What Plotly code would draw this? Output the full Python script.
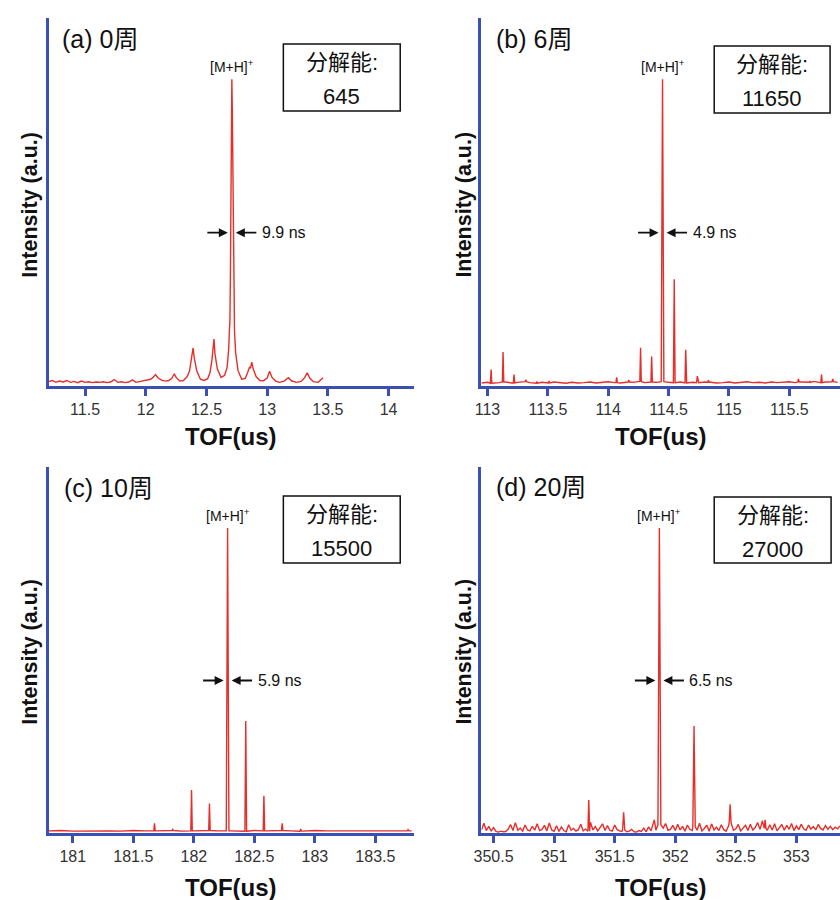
import plotly.graph_objects as go

W, H = 840, 900

# ---------------- data ----------------
panel_labels = ["(a) 0周", "(b) 6周", "(c) 10周", "(d) 20周"]
resolutions = ["645", "11650", "15500", "27000"]
fwhm_labels = ["9.9 ns", "4.9 ns", "5.9 ns", "6.5 ns"]
main_peak_x = [12.709, 114.45, 182.279, 351.869]
half_max = 0.5

ticks_a = [11.5, 12, 12.5, 13, 13.5, 14]
ticks_b = [113, 113.5, 114, 114.5, 115, 115.5]
ticks_c = [181, 181.5, 182, 182.5, 183, 183.5]
ticks_d = [350.5, 351, 351.5, 352, 352.5, 353]

a_x = [11.20, 11.23, 11.26, 11.29, 11.32, 11.35, 11.38, 11.41, 11.44, 11.47,
       11.50, 11.53, 11.56, 11.59, 11.62, 11.65, 11.68, 11.71, 11.74, 11.77,
       11.80, 11.83, 11.86, 11.89, 11.92, 11.95, 11.98, 12.01, 12.04, 12.06,
       12.08, 12.10, 12.13, 12.16, 12.19, 12.215, 12.235, 12.25, 12.28, 12.31,
       12.34, 12.36, 12.375, 12.39, 12.40, 12.42, 12.45, 12.48, 12.51, 12.53,
       12.545, 12.555, 12.562, 12.57, 12.59, 12.62, 12.65, 12.67, 12.683, 12.690,
       12.693, 12.697, 12.702, 12.706, 12.709, 12.713, 12.718, 12.724, 12.731, 12.740,
       12.760, 12.790, 12.820, 12.840, 12.855, 12.863, 12.873, 12.885, 12.91, 12.94,
       12.97, 13.00, 13.02, 13.04, 13.07, 13.10, 13.14, 13.175, 13.20, 13.24,
       13.28, 13.31, 13.33, 13.35, 13.38, 13.42, 13.46]
a_y = [0.014, 0.018, 0.012, 0.016, 0.013, 0.018, 0.012, 0.015, 0.011, 0.016,
       0.012, 0.014, 0.011, 0.013, 0.012, 0.014, 0.011, 0.013, 0.021, 0.012,
       0.014, 0.011, 0.013, 0.020, 0.012, 0.014, 0.016, 0.018, 0.022, 0.028,
       0.037, 0.027, 0.019, 0.016, 0.018, 0.025, 0.040, 0.028, 0.016, 0.018,
       0.030, 0.048, 0.080, 0.124, 0.090, 0.050, 0.022, 0.018, 0.024, 0.045,
       0.085, 0.125, 0.153, 0.105, 0.055, 0.028, 0.035, 0.060, 0.120, 0.190,
       0.210, 0.350, 0.700, 0.950, 1.000, 0.900, 0.600, 0.350, 0.180, 0.110,
       0.050, 0.022, 0.025, 0.045, 0.062, 0.058, 0.078, 0.055, 0.030, 0.018,
       0.017, 0.026, 0.048, 0.028, 0.016, 0.012, 0.016, 0.027, 0.017, 0.012,
       0.015, 0.028, 0.043, 0.026, 0.014, 0.012, 0.027]

b_base_start, b_base_step = 112.95, 0.05
b_base = [0.010, 0.012, 0.009, 0.011, 0.013, 0.010, 0.012, 0.014, 0.011, 0.009,
          0.012, 0.010, 0.013, 0.011, 0.009, 0.012, 0.010, 0.011, 0.013, 0.010,
          0.012, 0.014, 0.011, 0.010, 0.013, 0.012, 0.015, 0.011, 0.013, 0.012,
          0.014, 0.012, 0.011, 0.013, 0.010, 0.012, 0.011, 0.013, 0.012, 0.010,
          0.011, 0.013, 0.010, 0.012, 0.014, 0.011, 0.012, 0.010, 0.013, 0.011,
          0.012, 0.014, 0.011, 0.013, 0.012, 0.015, 0.011, 0.013, 0.014, 0.012]
b_pk_x = [113.03, 113.129, 113.22, 113.317, 113.41, 113.51, 114.07, 114.17, 114.268, 114.36,
          114.45, 114.547, 114.642, 114.738, 114.83, 115.576, 115.67, 115.767, 115.86]
b_pk_h = [0.054, 0.111, 0.037, 0.020, 0.015, 0.016, 0.028, 0.020, 0.125, 0.096,
          1.000, 0.348, 0.118, 0.032, 0.019, 0.023, 0.015, 0.037, 0.023]
b_pk_w = [0.006, 0.006, 0.006, 0.006, 0.006, 0.006, 0.006, 0.006, 0.006, 0.006,
          0.011, 0.007, 0.006, 0.006, 0.006, 0.006, 0.006, 0.006, 0.006]

c_base_start, c_base_step = 180.80, 0.10
c_base = [0.007, 0.008, 0.006, 0.007, 0.008, 0.007, 0.006, 0.008, 0.007, 0.007,
          0.008, 0.006, 0.007, 0.008, 0.007, 0.007, 0.006, 0.008, 0.007, 0.008,
          0.007, 0.006, 0.008, 0.007, 0.007, 0.008, 0.006, 0.007, 0.008, 0.007,
          0.007]
c_pk_x = [181.675, 181.825, 181.981, 182.129, 182.279, 182.429, 182.579, 182.73, 182.883, 183.77]
c_pk_h = [0.032, 0.012, 0.141, 0.097, 1.000, 0.367, 0.122, 0.032, 0.013, 0.011]
c_pk_w = [0.006, 0.006, 0.006, 0.006, 0.011, 0.007, 0.006, 0.006, 0.006, 0.006]

d_base_start, d_base_step = 350.40, 0.02
d_base = [0.010, 0.032, 0.008, 0.022, 0.006, 0.018, 0.005, 0.003, 0.006, 0.004,
          0.005, 0.012, 0.028, 0.008, 0.034, 0.009, 0.016, 0.006, 0.026, 0.010,
          0.007, 0.022, 0.009, 0.030, 0.008, 0.012, 0.025, 0.007, 0.033, 0.010,
          0.006, 0.024, 0.005, 0.020, 0.008, 0.004, 0.027, 0.009, 0.015, 0.006,
          0.011, 0.029, 0.007, 0.013, 0.006, 0.035, 0.010, 0.021, 0.007, 0.018,
          0.030, 0.008, 0.024, 0.009, 0.006, 0.026, 0.011, 0.007, 0.005, 0.010,
          0.004, 0.006, 0.012, 0.004, 0.003, 0.008, 0.005, 0.016, 0.004, 0.020,
          0.007, 0.034, 0.009, 0.027, 0.008, 0.016, 0.031, 0.009, 0.012, 0.025,
          0.008, 0.029, 0.010, 0.022, 0.006, 0.026, 0.012, 0.008, 0.021, 0.009,
          0.032, 0.007, 0.015, 0.026, 0.006, 0.030, 0.010, 0.019, 0.008, 0.027,
          0.011, 0.006, 0.024, 0.033, 0.009, 0.014, 0.028, 0.007, 0.016, 0.025,
          0.008, 0.029, 0.010, 0.018, 0.034, 0.012, 0.040, 0.015, 0.009, 0.027,
          0.010, 0.030, 0.007, 0.017, 0.028, 0.009, 0.025, 0.012, 0.031, 0.008,
          0.023, 0.011, 0.029, 0.014, 0.009, 0.026, 0.013, 0.021, 0.010, 0.028,
          0.015, 0.010, 0.024, 0.012, 0.022, 0.011, 0.019, 0.014, 0.023]
d_pk_x = [351.286, 351.574, 351.826, 351.869, 352.155, 352.453, 352.742]
d_pk_h = [0.108, 0.068, 0.043, 1.000, 0.351, 0.094, 0.043]
d_pk_w = [0.007, 0.009, 0.005, 0.012, 0.010, 0.008, 0.007]

x_ranges = [[11.2, 14.21], [112.95, 115.92], [180.8, 183.82], [350.4, 353.36]]
tick_lists = [ticks_a, ticks_b, ticks_c, ticks_d]


def build(base_start, base_step, base, pk_x, pk_h, pk_w):
    bx = [base_start + base_step * i for i in range(len(base))]
    pts = []
    for x, y in zip(bx, base):
        if all(abs(x - c) > w for c, w in zip(pk_x, pk_w)):
            pts.append((x, y))
    for c, h, w in zip(pk_x, pk_h, pk_w):
        j = min(range(len(bx)), key=lambda k: abs(bx[k] - c))
        b0 = base[j]
        pts += [(c - w, b0), (c, h), (c + w, b0)]
    pts.sort()
    return [p[0] for p in pts], [p[1] for p in pts]


spectra = [
    (a_x, a_y),
    build(b_base_start, b_base_step, b_base, b_pk_x, b_pk_h, b_pk_w),
    build(c_base_start, c_base_step, c_base, c_pk_x, c_pk_h, c_pk_w),
    build(d_base_start, d_base_step, d_base, d_pk_x, d_pk_h, d_pk_w),
]

FONT = "Liberation Sans, Arial, Noto Sans CJK SC, sans-serif"
BLUE = "#3a50b2"
RED = "#e62e2a"


def px(xp):
    return xp / W


def py(yp):
    return 1 - yp / H


xdoms = [[px(41), px(410)], [px(478), 1.0], [px(41), px(410)], [px(478), 1.0]]
ydoms = [[py(386), py(18)], [py(386), py(18)], [py(833), py(467)], [py(833), py(467)]]

fig = go.Figure()
layout = dict(
    width=W, height=H, margin=dict(l=0, r=0, t=0, b=0),
    paper_bgcolor="white", plot_bgcolor="white", showlegend=False,
    font=dict(family=FONT, color="#222"),
)
annotations = []
shapes = []

label_pos = [(53, 39), (491, 39), (55, 488), (491, 487)]
box_pos = [(278, 396, 44, 111), (713, 830, 46, 113), (278, 396, 496, 563), (713, 831, 497, 563)]
ytitle_pos = [(22, 205), (460, 205), (22, 652), (460, 652)]
xtitle_y = [437, 437, 887, 887]

for i in range(4):
    n = "" if i == 0 else str(i + 1)
    xs, ys = spectra[i]
    fig.add_trace(go.Scatter(x=xs, y=ys, mode="lines", xaxis="x" + n, yaxis="y" + n,
                             line=dict(color=RED, width=1.4), hoverinfo="skip"))
    layout["xaxis" + n] = dict(
        domain=xdoms[i], range=x_ranges[i], anchor="y" + n,
        showline=True, linecolor=BLUE, linewidth=3, showgrid=False, zeroline=False,
        ticks="outside", ticklen=7, tickwidth=3, tickcolor=BLUE,
        tickvals=tick_lists[i], ticktext=[f"{t:g}" for t in tick_lists[i]],
        tickfont=dict(size=16, color="#333", family=FONT),
    )
    layout["yaxis" + n] = dict(
        domain=ydoms[i], range=[0, 1.2], anchor="x" + n,
        showline=True, linecolor=BLUE, linewidth=3, showgrid=False, zeroline=False,
        showticklabels=False, ticks="",
    )
    xr, yr = "x" + n, "y" + n
    pk = main_peak_x[i]
    annotations.append(dict(x=pk, y=half_max, xref=xr, yref=yr, ax=-26, ay=0, text="",
                            showarrow=True, arrowhead=2, arrowsize=1, arrowwidth=1.8,
                            arrowcolor="#111", standoff=4))
    annotations.append(dict(x=pk, y=half_max, xref=xr, yref=yr, ax=52, ay=0,
                            text=fwhm_labels[i], showarrow=True, arrowhead=2, arrowsize=1,
                            arrowwidth=1.8, arrowcolor="#111", standoff=4, startstandoff=4,
                            font=dict(size=16, color="#111")))
    annotations.append(dict(x=pk, y=1.0, xref=xr, yref=yr, text="[M+H]<sup>+</sup>",
                            showarrow=False, xanchor="center", yanchor="bottom", yshift=2,
                            font=dict(size=14, color="#111")))
    lx, ly = label_pos[i]
    annotations.append(dict(x=px(lx), y=py(ly), xref="paper", yref="paper",
                            text=panel_labels[i], showarrow=False, xanchor="left",
                            yanchor="middle", font=dict(size=25, color="#111")))
    x0, x1, y0, y1 = box_pos[i]
    shapes.append(dict(type="rect", xref="paper", yref="paper",
                       x0=px(x0), x1=px(x1), y0=py(y1), y1=py(y0),
                       line=dict(color="#111", width=1.5), fillcolor="white"))
    cx = px((x0 + x1) / 2)
    annotations.append(dict(x=cx, y=py(y0 + 18), xref="paper", yref="paper",
                            text="分解能:", showarrow=False, xanchor="center",
                            yanchor="middle", font=dict(size=22, color="#111")))
    annotations.append(dict(x=cx, y=py(y0 + 52), xref="paper", yref="paper",
                            text=resolutions[i], showarrow=False, xanchor="center",
                            yanchor="middle", font=dict(size=22, color="#111")))
    tx, ty = ytitle_pos[i]
    annotations.append(dict(x=px(tx), y=py(ty), xref="paper", yref="paper",
                            text="<b>Intensity (a.u.)</b>", textangle=-90, showarrow=False,
                            xanchor="center", yanchor="middle",
                            font=dict(size=21.5, color="#111")))
    annotations.append(dict(x=(xdoms[i][0] + xdoms[i][1]) / 2 if i % 2 == 0 else px(659),
                            y=py(xtitle_y[i]), xref="paper", yref="paper",
                            text="<b>TOF(us)</b>", showarrow=False,
                            xanchor="center", yanchor="middle",
                            font=dict(size=24, color="#111")))

layout["annotations"] = annotations
layout["shapes"] = shapes
fig.update_layout(**layout)
fig.write_html(
    "out.html",
    config={"displayModeBar": False, "responsive": False},
    post_script="document.body.style.margin='0';document.body.style.overflow='hidden';",
)
